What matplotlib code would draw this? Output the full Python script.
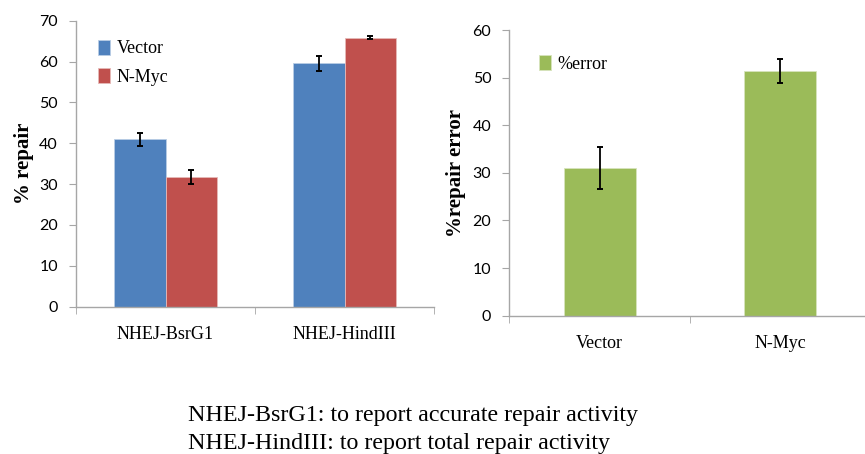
#
#   NHEJ repair assay: % repair and % repair error, Vector vs N-Myc
#

import numpy as np
import matplotlib.pyplot as plt

#
#   Data
#

assays = ["NHEJ-BsrG1", "NHEJ-HindIII"]
vector_repair = [41.0, 59.6]
vector_repair_err = [1.6, 1.8]
nmyc_repair = [31.8, 65.8]
nmyc_repair_err = [1.7, 0.4]

groups = ["Vector", "N-Myc"]
repair_error = [31.1, 51.4]
repair_error_err = [4.4, 2.5]

notes = [
    "NHEJ-BsrG1: to report accurate repair activity",
    "NHEJ-HindIII: to report total repair activity",
]

BLUE = "#4F81BD"
RED = "#C0504D"
GREEN = "#9BBB59"
AXIS = "#A6A6A6"
SERIF = ["Liberation Serif", "DejaVu Serif"]
SANS = ["Lato", "DejaVu Sans"]


def style_axes(ax, ymax, n):
    for side in ("top", "right"):
        ax.spines[side].set_visible(False)
    for side in ("left", "bottom"):
        ax.spines[side].set_color(AXIS)
        ax.spines[side].set_linewidth(1.0)
    ax.set_xlim(-0.5, n - 0.5)
    ax.set_ylim(0, ymax)
    ax.set_yticks(np.arange(0, ymax + 1, 10))
    ax.tick_params(axis="y", direction="out", length=5, color=AXIS,
                   labelsize=11.5, pad=8)
    for lab in ax.get_yticklabels():
        lab.set_family(SANS)
    # category labels at centres, tick marks at the boundaries
    ax.set_xticks(np.arange(n))
    ax.set_xticks(np.arange(n + 1) - 0.5, minor=True)
    ax.tick_params(axis="x", which="major", length=0, pad=14)
    ax.tick_params(axis="x", which="minor", direction="out", length=5,
                   color=AXIS)


def main():
    fig = plt.figure(figsize=(8.65, 4.54), dpi=100)

    # left: % repair
    ax1 = fig.add_axes([0.0879, 0.3245, 0.4139, 0.630])
    x = np.arange(len(assays))
    w = 0.287
    ekw = dict(ecolor="black", elinewidth=1.3, capsize=2.5, capthick=1.4)
    ax1.bar(x - w / 2, vector_repair, w, color=BLUE, edgecolor="#B9CDE5",
            linewidth=0.6, yerr=vector_repair_err, error_kw=ekw, label="Vector")
    ax1.bar(x + w / 2, nmyc_repair, w, color=RED, edgecolor="#E6B9B8",
            linewidth=0.6, yerr=nmyc_repair_err, error_kw=ekw, label="N-Myc")
    style_axes(ax1, 70, len(assays))
    ax1.set_xticklabels(assays, family=SERIF, fontsize=13)
    ax1.set_ylabel("% repair", family=SERIF, fontsize=15, fontweight="bold",
                   labelpad=4)
    ax1.legend(loc="upper left", bbox_to_anchor=(0.015, 0.99), frameon=False,
               prop=dict(family=SERIF, size=13), handlelength=0.7,
               handleheight=0.9, handletextpad=0.35, labelspacing=0.6)

    # right: % repair error
    ax2 = fig.add_axes([0.5888, 0.3046, 0.4178, 0.6293])
    x2 = np.arange(len(groups))
    ax2.bar(x2, repair_error, 0.40, color=GREEN, edgecolor="#D7E4BD",
            linewidth=0.6, yerr=repair_error_err, error_kw=ekw, label="%error")
    style_axes(ax2, 60, len(groups))
    ax2.set_xticklabels(groups, family=SERIF, fontsize=13)
    ax2.set_ylabel("%repair error", family=SERIF, fontsize=15,
                   fontweight="bold", labelpad=5)
    ax2.legend(loc="upper left", bbox_to_anchor=(0.036, 0.968), frameon=False,
               prop=dict(family=SERIF, size=13), handlelength=0.7,
               handleheight=0.9, handletextpad=0.35)

    for i, line in enumerate(notes):
        fig.text(188 / 865, 1 - (421 + 28.5 * i) / 454, line, family=SERIF,
                 fontsize=17.3, ha="left", va="baseline")

    fig.savefig("out.png", dpi=100)


if __name__ == "__main__":
    main()
